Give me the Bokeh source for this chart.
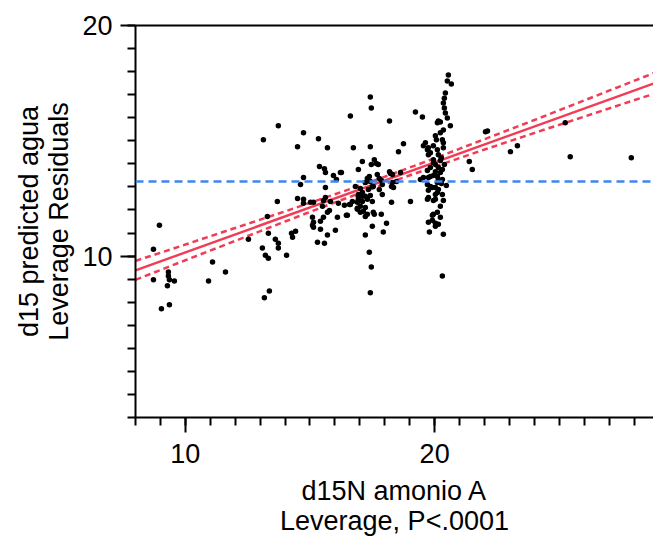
from bokeh.plotting import figure
from bokeh.models import Range1d, LinearAxis, SingleIntervalTicker, FixedTicker, Span
from bokeh.embed import file_html
from bokeh.resources import INLINE

# d15N amonio A (leverage)
x_vals = [
    8.96, 8.72, 8.72, 9.04, 9.36, 9.32, 9.32, 9.36, 9.56, 9.28,
    10.93, 11.09, 11.61, 12.53, 13.09, 13.21, 13.33, 13.17, 13.37, 13.13,
    13.33, 13.29, 13.61, 13.73, 13.73, 14.06, 14.26, 14.42, 14.30, 13.69,
    13.73, 14.50, 14.74, 15.34, 15.70, 15.38, 15.58, 15.62, 15.94, 16.22,
    16.06, 14.74, 14.62, 15.62, 14.50, 14.74, 14.74, 15.02, 15.14, 15.62,
    15.82, 15.54, 16.14, 16.62, 16.90, 16.90, 15.50, 15.70, 15.54, 15.42,
    15.10, 15.14, 15.10, 15.14, 16.10, 16.46, 15.42, 16.02, 15.70, 15.30,
    15.58, 16.62, 16.74, 16.94, 16.94, 16.70, 15.78,
    17.42, 17.46, 18.19, 19.23, 19.51, 17.42, 18.75, 18.55, 17.10, 17.58,
    17.66, 17.46, 17.74, 16.26, 17.70, 18.19, 18.31, 18.63, 17.38, 17.30,
    17.22, 17.42, 17.78, 17.86, 18.27, 18.31, 18.35, 17.90, 17.78, 17.54,
    17.02, 17.10, 17.34, 17.50, 17.42, 17.10, 16.94, 17.22, 17.30, 17.50,
    17.90, 18.27, 19.03, 16.82, 16.94, 17.10, 17.02, 17.22, 16.58, 16.38,
    16.90, 17.14, 17.54, 17.86, 17.30, 16.50, 17.58, 18.07, 17.50, 17.94,
    17.22, 17.38, 17.46, 17.42, 17.02, 17.22, 18.23, 18.47,
    20.55, 20.51, 20.67, 20.43, 20.39, 20.35, 20.39, 20.43, 20.51, 20.63,
    20.23, 20.11, 20.35, 20.03, 20.23, 20.31, 20.35, 19.95, 20.35, 19.55,
    19.75, 19.71, 19.83, 19.75, 20.15, 20.27, 20.11, 19.95, 20.23, 19.95,
    20.03, 20.15, 20.31, 19.83, 19.71, 20.03, 20.23, 20.11, 19.95, 19.83,
    19.75, 19.55, 19.43, 20.15, 20.31, 20.11, 19.71, 19.83, 20.03, 19.91,
    20.15, 19.75, 20.11, 20.03, 20.31, 19.71, 19.75, 20.03, 19.95, 20.35,
    20.23, 20.11, 19.95, 20.23, 19.91, 19.91, 19.75, 20.03, 20.15, 19.79,
    20.35, 20.03, 20.31, 19.63, 20.47, 20.27, 20.39, 20.07, 20.15,
    21.39, 21.51, 22.04, 22.12, 23.04, 23.32, 25.24, 25.44, 27.89,
]
# d15 predicted agua (leverage residuals)
y_vals = [
    11.34, 10.30, 8.97, 7.72, 7.89, 9.31, 9.14, 8.97, 8.92, 8.71,
    8.92, 9.74, 9.31, 10.73, 10.35, 10.04, 9.91, 8.19, 8.49, 15.04,
    10.99, 11.72, 10.73, 10.56, 10.35, 10.04, 10.99, 11.08, 10.82, 12.37,
    15.65, 14.74, 15.35, 15.09, 14.70, 13.88, 13.79, 13.62, 13.49, 13.62,
    13.32, 13.41, 13.10, 12.97, 12.50, 12.46, 12.29, 12.33, 12.33, 12.54,
    12.37, 12.41, 12.29, 12.24, 12.33, 12.07, 12.16, 11.90, 11.68, 11.51,
    11.68, 11.47, 11.34, 11.25, 11.68, 11.77, 11.16, 11.12, 10.91, 10.60,
    10.56, 16.08, 14.70, 13.75, 12.67, 12.37, 11.98,
    16.90, 16.42, 15.86, 16.25, 16.03, 14.74, 14.87, 14.53, 14.10, 14.18,
    14.01, 13.97, 13.97, 13.62, 13.54, 13.66, 13.54, 13.62, 13.45, 13.36,
    13.19, 13.23, 13.36, 13.28, 13.02, 13.19, 12.97, 13.10, 12.89, 13.02,
    12.93, 12.76, 12.89, 13.02, 12.63, 12.59, 12.59, 12.59, 12.46, 12.37,
    12.67, 12.33, 12.37, 13.02, 12.46, 12.37, 12.16, 12.11, 12.24, 12.20,
    12.03, 11.94, 11.90, 11.81, 11.81, 11.77, 11.81, 11.42, 11.29, 11.04,
    10.91, 10.17, 9.53, 8.41, 11.90, 11.72, 13.58, 13.23,
    17.85, 17.59, 17.46, 17.07, 16.85, 16.64, 16.42, 16.21, 15.99, 15.65,
    15.82, 15.78, 15.47, 15.22, 15.35, 15.04, 14.91, 14.78, 14.70, 14.78,
    14.70, 14.61, 14.48, 14.40, 14.40, 14.27, 14.61, 14.18, 14.14, 14.05,
    13.97, 13.84, 13.75, 13.84, 13.71, 13.66, 13.62, 13.45, 13.49, 13.45,
    13.41, 13.41, 13.32, 13.32, 13.32, 13.19, 13.10, 13.02, 12.97, 12.97,
    12.89, 12.85, 12.76, 12.67, 12.67, 12.46, 12.54, 12.46, 12.41, 12.41,
    12.16, 11.90, 11.81, 11.68, 11.77, 11.55, 11.47, 11.42, 11.38, 11.04,
    10.95, 11.29, 9.14, 14.91, 13.06, 13.15, 13.97, 15.04, 15.86,
    14.10, 13.75, 15.39, 15.43, 14.53, 14.78, 15.78, 14.31, 14.27,
]

mean_y = 13.23

fit_x = [8.0, 28.8]
fit_y = [9.38, 17.49]

band_x = [8.0, 10.0, 12.0, 14.0, 16.0, 17.87, 20.0, 22.0, 24.0, 26.0, 28.8]
band_upper = [9.79, 10.50, 11.22, 11.94, 12.68, 13.39, 14.24, 15.07, 15.90, 16.75, 17.94]
band_lower = [8.97, 9.82, 10.66, 11.50, 12.33, 13.07, 13.88, 14.62, 15.34, 16.05, 17.04]

x_label = "d15N amonio A\nLeverage, P<.0001"
y_label = "d15 predicted agua\nLeverage Residuals"

FONT = "Liberation Sans"
RED = "#F03C55"
BLUE = "#3F86EE"

p = figure(width=653, height=538, output_backend="svg", toolbar_location=None,
           x_range=Range1d(8, 28.78), y_range=Range1d(3, 20),
           min_border_left=135, min_border_right=0, min_border_top=25,
           min_border_bottom=119, x_axis_label=x_label, y_axis_label=y_label)
p.outline_line_color = None
p.grid.visible = False
p.background_fill_color = "white"
p.border_fill_color = "white"

for ax in (p.xaxis[0], p.yaxis[0]):
    ax.ticker = SingleIntervalTicker(interval=10, num_minor_ticks=10)
    ax.axis_line_width = 2
    ax.axis_line_color = "black"
    ax.major_tick_line_width = 2
    ax.minor_tick_line_width = 2
    ax.major_tick_out = 15
    ax.major_tick_in = 0
    ax.minor_tick_out = 8
    ax.minor_tick_in = 0
    ax.major_label_text_font = FONT
    ax.major_label_text_font_size = "27px"
    ax.major_label_text_color = "black"
    ax.axis_label_text_font = FONT
    ax.axis_label_text_font_size = "27px"
    ax.axis_label_text_font_style = "normal"
    ax.axis_label_text_color = "black"
    ax.axis_label_text_line_height = 1.0

p.xaxis[0].major_label_standoff = 11
p.yaxis[0].major_label_standoff = 8
p.xaxis[0].axis_label_standoff = 10
p.yaxis[0].axis_label_standoff = 5

top = LinearAxis(ticker=FixedTicker(ticks=[]), axis_line_width=2,
                 axis_line_color="black", major_tick_line_color=None,
                 minor_tick_line_color=None)
p.add_layout(top, "above")

p.add_layout(Span(location=mean_y, dimension="width", line_color=BLUE,
                  line_width=2.5, line_dash="8 5"))

p.line(fit_x, fit_y, line_color=RED, line_width=2.4)
p.line(band_x, band_upper, line_color=RED, line_width=2.5, line_dash="6 4")
p.line(band_x, band_lower, line_color=RED, line_width=2.5, line_dash="6 4")

p.scatter(x_vals, y_vals, size=5.5, fill_color="black", line_color=None)

open("out.html", "w").write(file_html(p, INLINE))
